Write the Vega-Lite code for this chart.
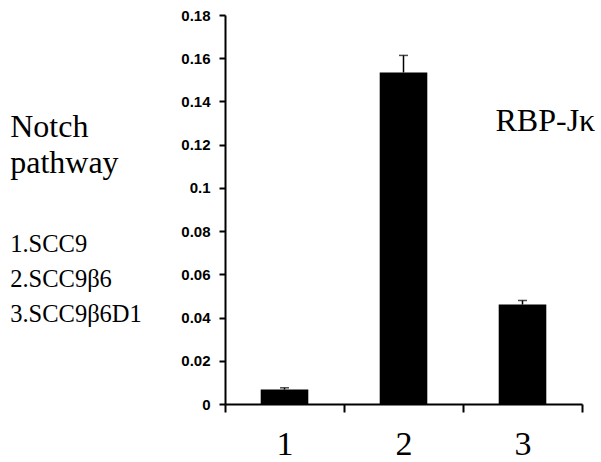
{
  "$schema": "https://vega.github.io/schema/vega-lite/v6.json",
  "padding": {"left": 0, "top": 8, "right": 19, "bottom": 0},
  "background": "white",
  "config": {"view": {"stroke": null}},
  "spacing": 10,
  "datasets": {
    "bars": [
      {"group": "1", "value": 0.0067, "upper": 0.0075},
      {"group": "2", "value": 0.1534, "upper": 0.1613},
      {"group": "3", "value": 0.046, "upper": 0.0479}
    ],
    "legend": [
      {"text": "Notch", "pos": 0.1235, "kind": "head"},
      {"text": "pathway", "pos": 0.1069, "kind": "head"},
      {"text": "1.SCC9", "pos": 0.0703, "kind": "item"},
      {"text": "2.SCC9β6", "pos": 0.0541, "kind": "item"},
      {"text": "3.SCC9β6D1", "pos": 0.0379, "kind": "item"}
    ],
    "label": [
      {"group": "3", "pos": 0.1265, "text": "RBP-Jκ"}
    ]
  },
  "hconcat": [
    {
      "width": 170,
      "height": 389,
      "data": {"name": "legend"},
      "encoding": {
        "x": {"datum": 0.06, "type": "quantitative", "scale": {"domain": [0, 1]}, "axis": null},
        "y": {"field": "pos", "type": "quantitative", "scale": {"domain": [0, 0.18]}, "axis": null},
        "text": {"field": "text"}
      },
      "layer": [
        {
          "transform": [{"filter": "datum.kind == 'head'"}],
          "mark": {"type": "text", "align": "left", "baseline": "alphabetic", "font": "Liberation Serif", "fontSize": 32, "color": "black"}
        },
        {
          "transform": [{"filter": "datum.kind == 'item'"}],
          "mark": {"type": "text", "align": "left", "baseline": "alphabetic", "font": "Liberation Serif", "fontSize": 24.5, "color": "black"}
        }
      ]
    },
    {
      "width": 357,
      "height": 389,
      "layer": [
        {
          "data": {"name": "bars"},
          "mark": {"type": "bar", "color": "black", "width": {"band": 0.4}},
          "encoding": {
            "x": {
              "field": "group", "type": "nominal",
              "scale": {"paddingInner": 0, "paddingOuter": 0},
              "axis": {
                "title": null, "labelAngle": 0, "tickBand": "extent",
                "domainColor": "black", "domainWidth": 2, "tickColor": "black", "tickWidth": 2, "tickSize": 8,
                "labelFont": "Liberation Serif", "labelFontSize": 34, "labelColor": "black", "labelPadding": 15
              }
            },
            "y": {
              "field": "value", "type": "quantitative",
              "scale": {"domain": [0, 0.18], "nice": false},
              "axis": {
                "title": null, "grid": false,
                "values": [0, 0.02, 0.04, 0.06, 0.08, 0.1, 0.12, 0.14, 0.16, 0.18],
                "format": "~g",
                "domainColor": "black", "domainWidth": 2, "tickColor": "black", "tickWidth": 2, "tickSize": 6,
                "labelFont": "Liberation Sans", "labelFontSize": 15, "labelFontWeight": "bold", "labelColor": "black", "labelPadding": 9
              }
            }
          }
        },
        {
          "data": {"name": "bars"},
          "mark": {"type": "rule", "color": "black", "strokeWidth": 1.5},
          "encoding": {
            "x": {"field": "group", "type": "nominal"},
            "y": {"field": "value", "type": "quantitative"},
            "y2": {"field": "upper"}
          }
        },
        {
          "data": {"name": "bars"},
          "mark": {"type": "tick", "color": "black", "thickness": 1.5, "size": 9, "orient": "horizontal"},
          "encoding": {
            "x": {"field": "group", "type": "nominal"},
            "y": {"field": "upper", "type": "quantitative"}
          }
        },
        {
          "data": {"name": "label"},
          "mark": {"type": "text", "font": "Liberation Serif", "fontSize": 32, "color": "black", "align": "left", "baseline": "alphabetic", "dx": -27},
          "encoding": {
            "x": {"field": "group", "type": "nominal"},
            "y": {"field": "pos", "type": "quantitative"},
            "text": {"field": "text"}
          }
        }
      ]
    }
  ]
}
